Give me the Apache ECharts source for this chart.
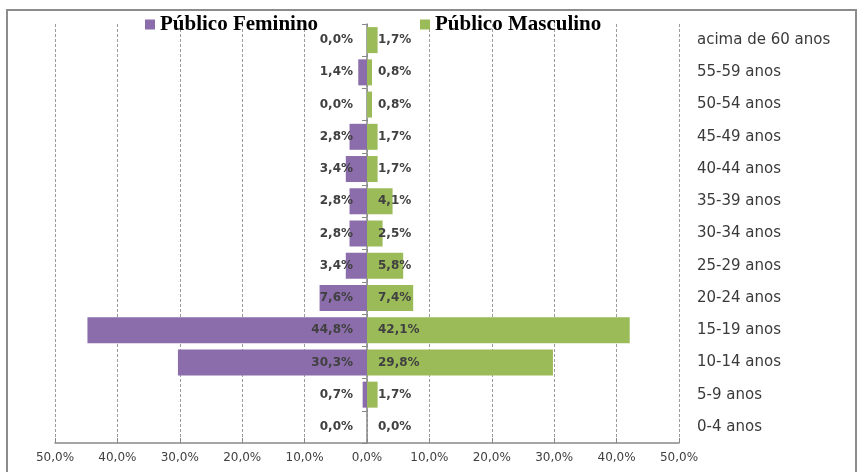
<!DOCTYPE html>
<html>
<head>
<meta charset="utf-8">
<script src="https://cdn.jsdelivr.net/npm/echarts@6/dist/echarts.min.js"></script>
<style>
html,body{margin:0;padding:0;background:#fff;}
#chart{width:862px;height:472px;}
</style>
</head>
<body>
<div id="chart"></div>
<script>
// Categories from bottom to top
const categories = ['0-4 anos','5-9 anos','10-14 anos','15-19 anos','20-24 anos','25-29 anos','30-34 anos','35-39 anos','40-44 anos','45-49 anos','50-54 anos','55-59 anos','acima de 60 anos'];
const feminino = [0.0, 0.7, 30.3, 44.8, 7.6, 3.4, 2.8, 2.8, 3.4, 2.8, 0.0, 1.4, 0.0];
const masculino = [0.0, 1.7, 29.8, 42.1, 7.4, 5.8, 2.5, 4.1, 1.7, 1.7, 0.8, 0.8, 1.7];
const xTicks = [-50, -40, -30, -20, -10, 0, 10, 20, 30, 40, 50];
const seriesNames = ['Público Feminino', 'Público Masculino'];

const fmt = v => Math.abs(v).toFixed(1).replace('.', ',') + '%';

const chart = echarts.init(document.getElementById('chart'), null, {renderer: 'canvas'});
const labelStyle = {
  show: true,
  color: '#404040',
  fontFamily: 'DejaVu Sans',
  fontSize: 12,
  fontWeight: 'bold'
};
chart.setOption({
  animation: false,
  backgroundColor: '#ffffff',
  graphic: [{
    type: 'rect', silent: true, z: -10,
    shape: {x: 7, y: 10, width: 849, height: 480},
    style: {fill: 'none', stroke: '#8c8c8c', lineWidth: 2}
  }],
  legend: [{
    data: [seriesNames[0]], left: 140, top: 9,
    icon: 'rect', itemWidth: 10, itemHeight: 10, itemGap: 0, itemTextGap: 3,
    textStyle: {fontFamily: 'Liberation Serif', fontWeight: 'bold', fontSize: 21, color: '#000'}
  }, {
    data: [seriesNames[1]], left: 415, top: 9,
    icon: 'rect', itemWidth: 10, itemHeight: 10, itemGap: 0, itemTextGap: 3,
    textStyle: {fontFamily: 'Liberation Serif', fontWeight: 'bold', fontSize: 21, color: '#000'}
  }],
  grid: {left: 55, right: 183, top: 24, bottom: 29, containLabel: false},
  xAxis: {
    type: 'value', min: xTicks[0], max: xTicks[xTicks.length - 1], interval: 10,
    axisLine: {show: true, lineStyle: {color: '#888', width: 1.5}},
    axisTick: {show: true, inside: true, length: 5, lineStyle: {color: '#888'}},
    splitLine: {show: true, lineStyle: {color: '#9a9a9a', type: [3, 2], width: 1}},
    axisLabel: {
      formatter: fmt, margin: 9,
      color: '#404040', fontFamily: 'DejaVu Sans', fontSize: 12
    }
  },
  yAxis: [{
    type: 'category', data: categories, position: 'left',
    axisLine: {show: true, onZero: true, lineStyle: {color: '#888', width: 1.5}},
    axisTick: {show: true, length: 5, lineStyle: {color: '#888'}},
    axisLabel: {show: false},
    splitLine: {show: false}
  }, {
    type: 'category', data: categories, position: 'right',
    axisLine: {show: false}, axisTick: {show: false},
    axisLabel: {show: true, margin: 18, color: '#3a3a3a', fontFamily: 'DejaVu Sans', fontSize: 15},
    splitLine: {show: false}
  }],
  series: [{
    name: seriesNames[0], type: 'bar', yAxisIndex: 0,
    data: feminino.map(v => -v),
    barWidth: 26, barGap: '-100%',
    itemStyle: {color: '#8A6DAA'},
    label: Object.assign({}, labelStyle, {position: 'insideRight', distance: 14, formatter: p => fmt(p.value)})
  }, {
    name: seriesNames[1], type: 'bar', yAxisIndex: 0,
    data: masculino,
    barWidth: 26, barGap: '-100%',
    itemStyle: {color: '#9BBB59'},
    label: Object.assign({}, labelStyle, {position: 'insideLeft', distance: 11, formatter: p => fmt(p.value)})
  }]
});
</script>
</body>
</html>
